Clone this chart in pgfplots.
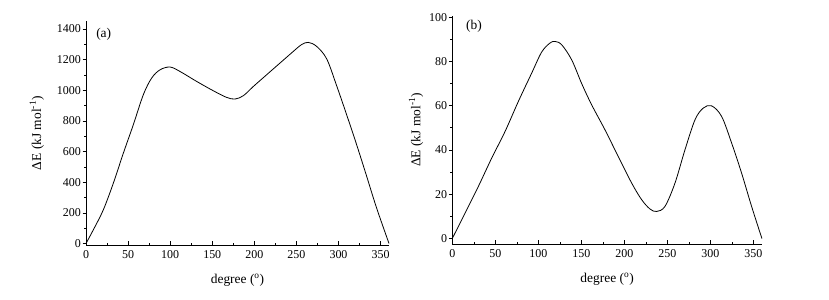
\documentclass[border=0pt]{standalone}
\usepackage{fontspec}
\setmainfont{Liberation Serif}
\usepackage{pgfplots}
\pgfplotsset{compat=1.18}
\begin{document}
\begin{tikzpicture}
\pgfplotsset{
  every axis/.append style={
    scale only axis,
    anchor=south west,
    axis x line=bottom,
    axis y line=left,
    axis line style={-, line width=0.7pt},
    xmin=0, xmax=360,
    xtick={0,50,...,350},
    minor x tick num=1,
    minor y tick num=1,
    tick style={black, line width=0.6pt},
    major tick length=3.5bp,
    minor tick length=2bp,
    x tick style={/pgfplots/tick align=inside},
    y tick style={/pgfplots/tick align=outside},
    /pgf/number format/assume math mode=true,
    /pgf/number format/1000 sep={},
    tick label style={font=\fontsize{12}{14}\selectfont},
    label style={font=\fontsize{13.5}{16}\selectfont},
    xlabel={degree (\textsuperscript{o})},
    ylabel={ΔE (kJ mol\textsuperscript{-1})},
    clip=false,
  },
}
\path[use as bounding box] (0,0) rectangle (829bp,300bp);
% (a)
\begin{axis}[
  at={(86bp,55bp)},
  width=303bp, height=223.6bp,
  ymin=-10, ymax=1450,
  ytick={0,200,...,1400},
  xlabel style={yshift=-9bp},
  ylabel style={yshift=6bp},
]
\addplot[black, line width=0.8pt, smooth, tension=0.55] coordinates {
(0,0) (8.7,89) (20.6,220) (32.5,394) (44.4,590) (56.2,775) (68.1,971)
(78,1080) (88,1134) (99.8,1152) (111.7,1123) (131.5,1058) (151.3,997)
(167,954) (177,943) (187,965) (198.8,1025) (214.7,1102) (230.5,1178)
(246.3,1254) (256,1298) (264,1313) (274,1287) (286,1205) (297.8,1030)
(309.7,840) (321.6,644) (333.5,438) (345.3,231) (360,0)
};
\node[anchor=west, font=\fontsize{13.5}{16}\selectfont] at (axis cs:8,1365) {(a)};
\end{axis}
% (b)
\begin{axis}[
  at={(452.3bp,56bp)},
  width=309.6bp, height=228bp,
  ymin=-2.5, ymax=100.5,
  ytick={0,20,...,100},
  xlabel style={yshift=-9bp},
  ylabel style={yshift=-1bp},
]
\addplot[black, line width=0.8pt, smooth, tension=0.55] coordinates {
(0,0) (14.8,11.4) (30.3,23.5) (45.8,36.3) (61.3,48.3) (76.8,61.9)
(92.3,74.7) (103.9,84.2) (113.6,88.3) (119.4,89.0) (127.2,87.5)
(138.8,80.7) (150.4,70) (162,60.4) (177.5,49.1) (193,37) (208.6,25)
(220.2,17.5) (229.9,13.3) (237.6,12.2) (247.3,14.5) (258.9,25)
(270.5,40) (282.2,53.6) (291.8,58.9) (301.6,59.9) (313.2,55.1)
(324.8,43.1) (336.4,29.5) (348,14.5) (360,0)
};
\node[anchor=west, font=\fontsize{13.5}{16}\selectfont] at (axis cs:12,95.8) {(b)};
\end{axis}
\end{tikzpicture}
\end{document}
